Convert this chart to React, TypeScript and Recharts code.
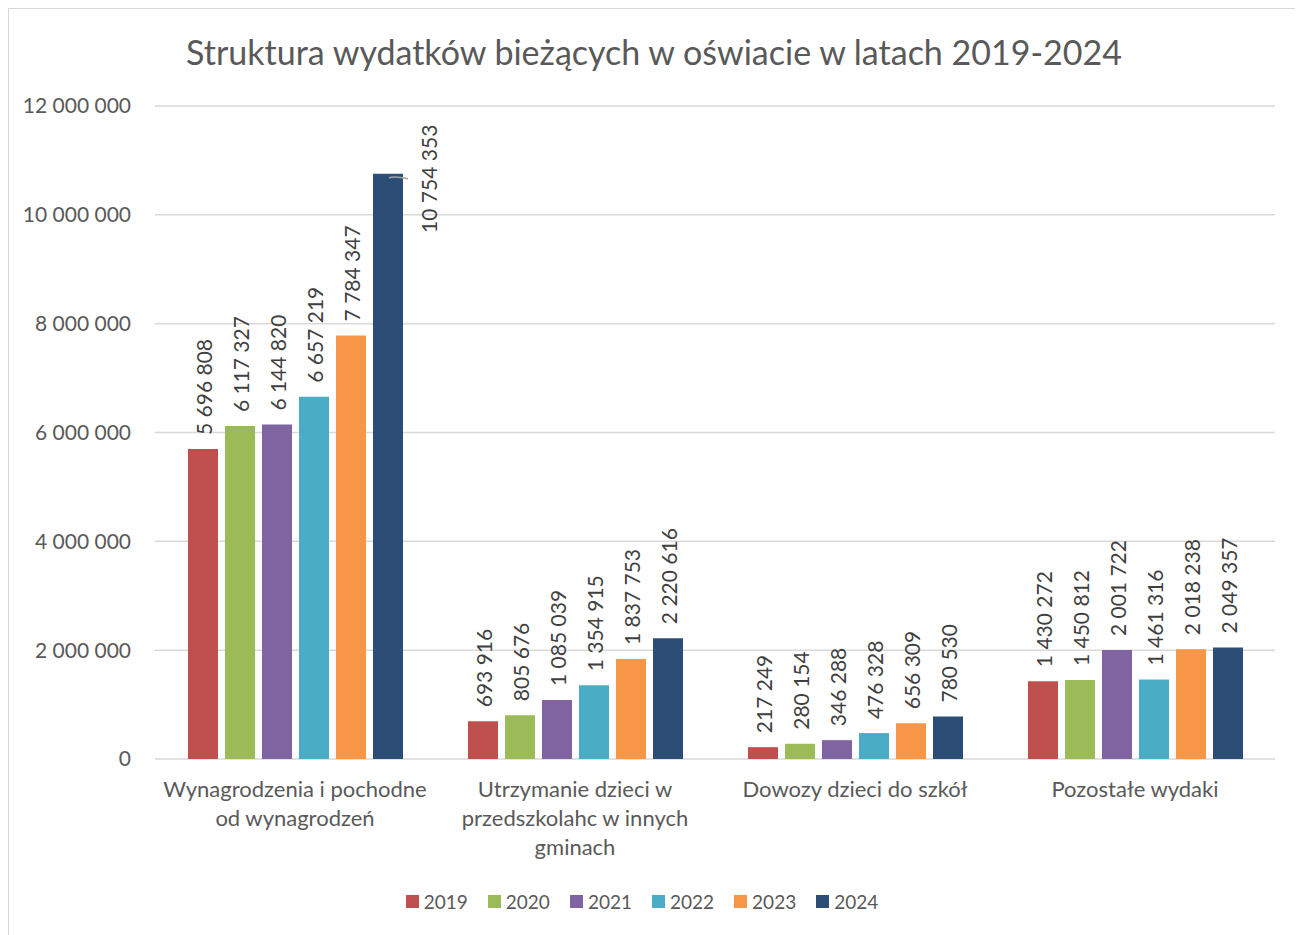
import {
  BarChart,
  Bar,
  XAxis,
  YAxis,
  CartesianGrid,
  Legend,
  LabelList,
} from "recharts";

const categories = [
  "Wynagrodzenia i pochodne od wynagrodzeń",
  "Utrzymanie dzieci w przedszkolahc w innych gminach",
  "Dowozy dzieci do szkół",
  "Pozostałe wydaki",
];

const years = ["2019", "2020", "2021", "2022", "2023", "2024"];

const v2019 = [5696808, 693916, 217249, 1430272];
const v2020 = [6117327, 805676, 280154, 1450812];
const v2021 = [6144820, 1085039, 346288, 2001722];
const v2022 = [6657219, 1354915, 476328, 1461316];
const v2023 = [7784347, 1837753, 656309, 2018238];
const v2024 = [10754353, 2220616, 780530, 2049357];

const yTicks = [0, 2000000, 4000000, 6000000, 8000000, 10000000, 12000000];

const colors = ["#C0504D", "#9BBB59", "#8064A2", "#4BACC6", "#F79646", "#2C4D75"];

const series = [v2019, v2020, v2021, v2022, v2023, v2024];

const data = categories.map((name, i) => {
  const row: Record<string, string | number> = { name };
  years.forEach((yr, k) => {
    row[yr] = series[k][i];
  });
  return row;
});

const FONT = "Lato, 'Open Sans', sans-serif";
const PLOT_TOP = 97;

const fmt = (v: number) => String(v).replace(/\B(?=(\d{3})+(?!\d))/g, " ");

// word wrap with real text metrics
let ctx: CanvasRenderingContext2D | null = null;
function wrapWords(text: string, maxWidth: number, font: string): string[] {
  if (!ctx) ctx = document.createElement("canvas").getContext("2d");
  if (!ctx) return [text];
  ctx.font = font;
  const lines: string[] = [];
  let cur = "";
  for (const w of text.split(" ")) {
    const next = cur ? cur + " " + w : w;
    if (cur && ctx.measureText(next).width > maxWidth) {
      lines.push(cur);
      cur = w;
    } else {
      cur = next;
    }
  }
  if (cur) lines.push(cur);
  return lines;
}

function BarValue(props: any) {
  const { x, y, width, value } = props;
  const text = fmt(Number(value));
  const cx = x + width / 2;
  const len = text.length * 10.6;
  const style = { fontSize: 21, fontFamily: FONT, fill: "#404040" };
  if (y - 14 - len < PLOT_TOP) {
    // no room above the bar: put it to the right with a leader line
    const lx = x + width + 25;
    const ly = y + 5;
    return (
      <g>
        <path
          d={`M${x + 16},${y + 4} Q${x + 22},${y + 2} ${x + 35},${y + 5}`}
          stroke="#a6a6a6"
          fill="none"
          strokeWidth={1.5}
        />
        <text
          transform={`translate(${lx},${ly}) rotate(-90)`}
          textAnchor="middle"
          dominantBaseline="central"
          style={style}
        >
          {text}
        </text>
      </g>
    );
  }
  return (
    <text
      transform={`translate(${cx},${y - 14}) rotate(-90)`}
      textAnchor="start"
      dominantBaseline="central"
      style={style}
    >
      {text}
    </text>
  );
}

function CategoryTick({ x, y, payload }: any) {
  const lines = wrapWords(String(payload.value), 275, `22px Lato`);
  return (
    <text
      x={x}
      y={y + 38}
      textAnchor="middle"
      fill="#595959"
      style={{ fontSize: 22, fontFamily: FONT }}
    >
      {lines.map((ln, i) => (
        <tspan key={i} x={x} y={y + 38 + i * 29}>
          {ln}
        </tspan>
      ))}
    </text>
  );
}

function LegendContent() {
  return (
    <div
      style={{
        display: "flex",
        justifyContent: "center",
        alignItems: "center",
        gap: 20,
        height: 30,
        fontFamily: FONT,
      }}
    >
      {years.map((yr, i) => (
        <div key={yr} style={{ display: "flex", alignItems: "center" }}>
          <span
            style={{
              display: "inline-block",
              width: 13,
              height: 13,
              background: colors[i],
              marginRight: 5,
            }}
          />
          <span style={{ fontSize: 19, color: "#595959" }}>{yr}</span>
        </div>
      ))}
    </div>
  );
}

export default function App() {
  return (
    <div
      style={{
        position: "relative",
        width: 1290,
        height: 932,
        border: "1px solid #d9d9d9",
        background: "#fff",
      }}
    >
      <div
        style={{
          position: "absolute",
          top: 23,
          left: 0,
          width: "100%",
          textAlign: "center",
          fontFamily: FONT,
          fontSize: 34,
          lineHeight: "40px",
          color: "#595959",
          zIndex: 1,
        }}
      >
        Struktura wydatków bieżących w oświacie w latach 2019-2024
      </div>
      <BarChart
        width={1290}
        height={924}
        data={data}
        margin={{ top: PLOT_TOP, right: 24, left: 0, bottom: 17 }}
        barSize={30}
        barGap={7}
      >
        <CartesianGrid vertical={false} stroke="#d9d9d9" strokeWidth={1.5} />
        <XAxis
          dataKey="name"
          axisLine={false}
          tickLine={false}
          tickSize={0}
          tickMargin={0}
          height={127}
          interval={0}
          tick={<CategoryTick />}
        />
        <YAxis
          domain={[0, 12000000]}
          ticks={yTicks}
          width={146}
          axisLine={false}
          tickLine={false}
          tickSize={0}
          tickMargin={24}
          tickFormatter={(v: number) => fmt(v)}
          tick={{ fontSize: 21, fontFamily: FONT, fill: "#595959" }}
        />
        <Legend verticalAlign="bottom" height={30} content={<LegendContent />} />
        {years.map((yr, i) => (
          <Bar key={yr} dataKey={yr} fill={colors[i]} isAnimationActive={false}>
            <LabelList dataKey={yr} content={<BarValue />} />
          </Bar>
        ))}
      </BarChart>
    </div>
  );
}
